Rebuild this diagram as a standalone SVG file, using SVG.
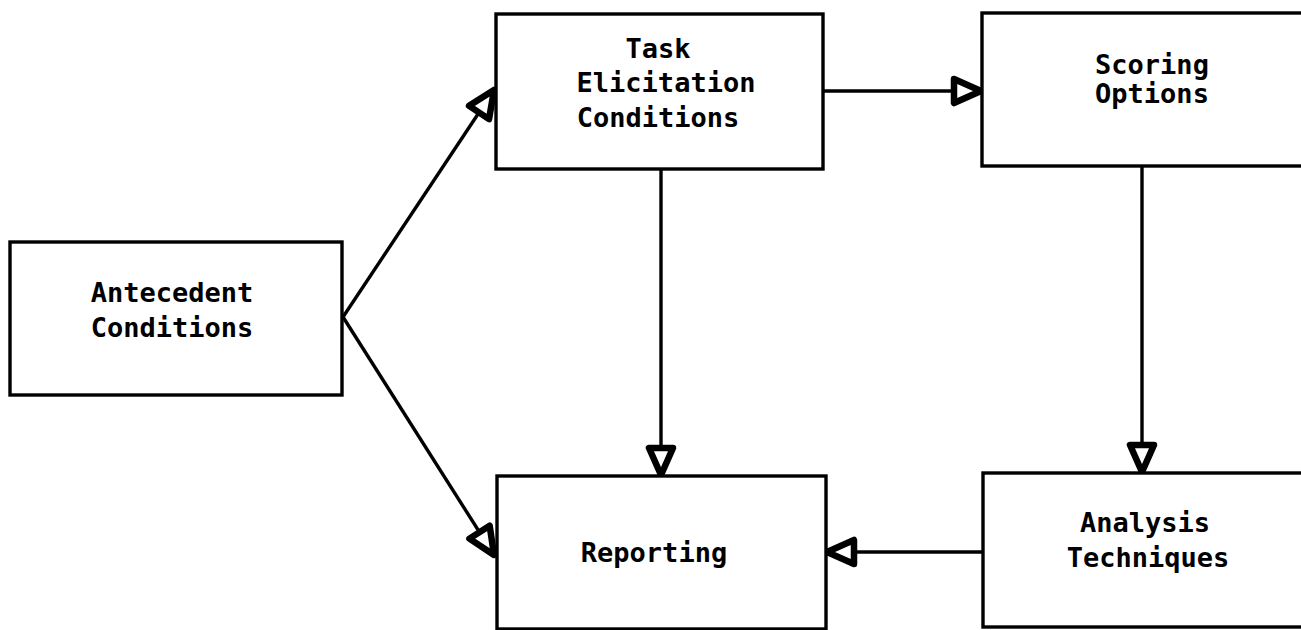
<svg xmlns="http://www.w3.org/2000/svg" width="1301" height="630" viewBox="0 0 1301 630">
  <style>
    .box { fill: #ffffff; stroke: #000000; stroke-width: 3.4; }
    .lbl { font-family: "DejaVu Sans Mono", "Liberation Mono", monospace; font-size: 27px; font-weight: bold; fill: #000000; text-anchor: middle; }
    .edge { fill: none; stroke: #000000; stroke-width: 3.4; marker-end: url(#head); }
  </style>
  <defs>
    <!-- hollow triangular arrowhead with a heavy outline, tip at the reference point -->
    <marker id="head" markerUnits="userSpaceOnUse" markerWidth="40" markerHeight="40" viewBox="-4 -4 40 40" refX="30" refY="14" orient="auto">
      <path d="M3,2 L30,14 L3,26 Z" fill="#ffffff" stroke="#000000" stroke-width="6.5" stroke-linejoin="round"/>
    </marker>
  </defs>
  <rect width="1301" height="630" fill="#ffffff"/>

  <g id="connectors">
    <line class="edge" x1="343" y1="317" x2="494" y2="90"/>
    <line class="edge" x1="343" y1="317" x2="494" y2="555"/>
    <line class="edge" x1="661" y1="169" x2="661" y2="475"/>
    <line class="edge" x1="823" y1="91" x2="981" y2="91"/>
    <line class="edge" x1="1142" y1="166" x2="1142" y2="472"/>
    <line class="edge" x1="983" y1="552" x2="827" y2="552"/>
  </g>

  <g id="antecedent">
    <rect class="box" x="10" y="242" width="332" height="153"/>
    <text class="lbl" x="172" y="302">Antecedent</text>
    <text class="lbl" x="172" y="337">Conditions</text>
  </g>

  <g id="task">
    <rect class="box" x="496" y="14" width="327" height="155"/>
    <text class="lbl" x="658" y="58">Task</text>
    <text class="lbl" x="666" y="92">Elicitation</text>
    <text class="lbl" x="658" y="127">Conditions</text>
  </g>

  <g id="scoring">
    <rect class="box" x="982" y="13" width="330" height="153"/>
    <text class="lbl" x="1152" y="74">Scoring</text>
    <text class="lbl" x="1152" y="103">Options</text>
  </g>

  <g id="reporting">
    <rect class="box" x="497" y="476" width="329" height="153"/>
    <text class="lbl" x="654" y="562">Reporting</text>
  </g>

  <g id="analysis">
    <rect class="box" x="983" y="473" width="330" height="154"/>
    <text class="lbl" x="1145" y="532">Analysis</text>
    <text class="lbl" x="1148" y="567">Techniques</text>
  </g>
</svg>
